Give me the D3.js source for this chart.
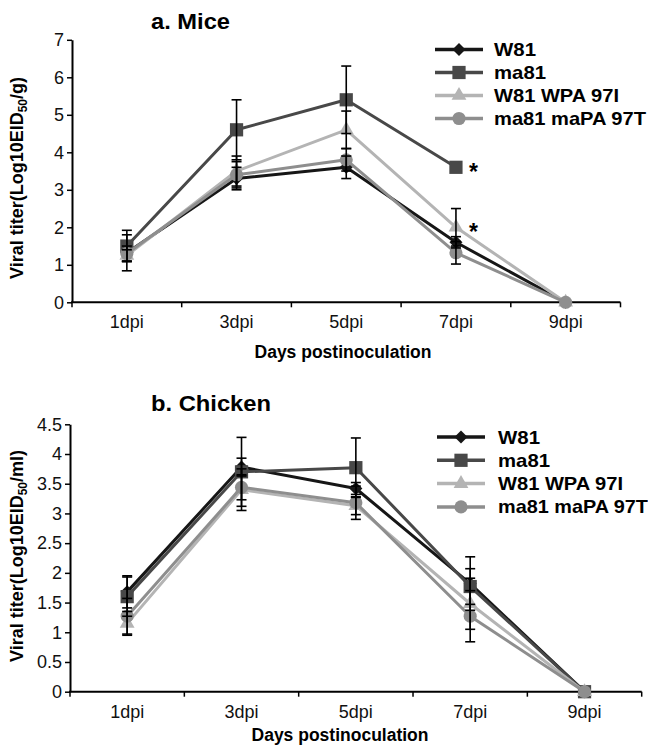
<!DOCTYPE html>
<html>
<head>
<meta charset="utf-8">
<script src="https://cdn.jsdelivr.net/npm/d3@7/dist/d3.min.js"></script>
<style>
  html, body { margin: 0; padding: 0; background: #fff; }
  svg { display: block; font-family: "Liberation Sans", Arial, sans-serif; }
</style>
</head>
<body>
<div id="chart"></div>
<script>
// categories
const days = ["1dpi", "3dpi", "5dpi", "7dpi", "9dpi"];
const seriesNames = ["W81", "ma81", "W81 WPA 97I", "ma81 maPA 97T"];

// a. Mice (null = no value)
const miceW81 = [1.32, 3.3, 3.6, 1.6, 0];
const miceW81Err = [0.48, 0.3, 0.3, 0.15, 0];
const miceMa81 = [1.5, 4.6, 5.4, 3.6, null];
const miceMa81Err = [0.42, 0.8, 0.9, 0, 0];
const miceWPA = [1.25, 3.5, 4.6, 2.0, 0];
const miceWPAErr = [0.15, 0.4, 0.5, 0.5, 0];
const miceMaPA = [1.3, 3.4, 3.8, 1.32, 0];
const miceMaPAErr = [0.2, 0.35, 0.3, 0.3, 0];
const miceTicks = [0, 1, 2, 3, 4, 5, 6, 7];
// significance marks: [series index, day index]
const miceStars = [[1, 3], [2, 3]];

// b. Chicken
const chickenW81 = [1.68, 3.78, 3.42, 1.82, 0];
const chickenW81Err = [0.27, 0.15, 0.1, 0.45, 0];
const chickenMa81 = [1.6, 3.7, 3.77, 1.77, 0];
const chickenMa81Err = [0.33, 0.58, 0.5, 0.3, 0];
const chickenWPA = [1.15, 3.4, 3.13, 1.48, 0];
const chickenWPAErr = [0.2, 0.35, 0.15, 0.43, 0];
const chickenMaPA = [1.27, 3.44, 3.18, 1.27, 0];
const chickenMaPAErr = [0.3, 0.21, 0.28, 0.43, 0];
const chickenTicks = [0, 0.5, 1, 1.5, 2, 2.5, 3, 3.5, 4, 4.5];
const chickenStars = [];

const colors = ["#161616", "#484848", "#b4b4b4", "#8e8e8e"];
const shapes = ["diamond", "square", "triangle", "circle"];

const width = 648, height = 745;
const svg = d3.select("#chart").append("svg")
  .attr("width", width)
  .attr("height", height);

function markerPath(shape) {
  if (shape === "diamond") return d3.symbol(d3.symbolSquare, 85)();
  if (shape === "square") return d3.symbol(d3.symbolSquare, 175)();
  if (shape === "triangle") return d3.symbol(d3.symbolTriangle, 95)();
  return d3.symbol(d3.symbolCircle, 135)();
}

function drawPanel(p) {
  const g = svg.append("g");
  const x = d3.scaleBand().domain(days).range(p.xRange);
  const y = d3.scaleLinear().domain(p.yDomain).range(p.yRange);
  const cx = d => x(d) + x.bandwidth() / 2;

  // title
  g.append("text")
    .attr("x", p.titleX).attr("y", p.titleY)
    .attr("font-size", 22).attr("font-weight", "bold")
    .attr("textLength", p.titleLen).attr("lengthAdjust", "spacingAndGlyphs")
    .text(p.title);

  // y axis
  const yAxis = g.append("g")
    .attr("transform", `translate(${p.xRange[0]},0)`)
    .call(d3.axisLeft(y).tickValues(p.ticks).tickFormat(d => String(d))
      .tickSize(5).tickSizeOuter(0).tickPadding(3));
  yAxis.select(".domain").attr("stroke", "#000").attr("stroke-width", 2);
  yAxis.selectAll(".tick line").attr("stroke", "#000").attr("stroke-width", 1.5);
  yAxis.selectAll(".tick text")
    .attr("font-size", 18).attr("fill", "#111")
    .attr("font-family", "'Liberation Sans', Arial, sans-serif");

  // x axis: line, boundary ticks, centred labels
  const xAxis = g.append("g").attr("transform", `translate(0,${p.yRange[0]})`);
  xAxis.append("line")
    .attr("x1", p.xRange[0] - 1).attr("x2", p.xRange[1])
    .attr("stroke", "#000").attr("stroke-width", 2);
  const bounds = days.map(d => x(d)).concat([p.xRange[1]]);
  xAxis.selectAll(".bt").data(bounds).enter().append("line")
    .attr("x1", d => d).attr("x2", d => d)
    .attr("y1", 0).attr("y2", 5)
    .attr("stroke", "#000").attr("stroke-width", 1.5);
  xAxis.selectAll(".lbl").data(days).enter().append("text")
    .attr("x", d => cx(d)).attr("y", 26)
    .attr("text-anchor", "middle")
    .attr("font-size", 18).attr("fill", "#111")
    .text(d => d);

  // axis titles
  g.append("text")
    .attr("x", p.xLabelX).attr("y", p.xLabelY)
    .attr("text-anchor", "middle")
    .attr("font-size", 17.5).attr("font-weight", "bold")
    .text("Days postinoculation");

  const yl = g.append("text")
    .attr("transform", `translate(23,${p.yLabelY}) rotate(-90)`)
    .attr("text-anchor", "middle")
    .attr("font-size", 18).attr("font-weight", "bold");
  yl.append("tspan").text("Viral titer(Log10EID");
  yl.append("tspan").attr("font-size", 12).attr("dy", 4).text("50");
  yl.append("tspan").attr("dy", -4).text(p.unit);

  // lines
  const line = d3.line()
    .defined(d => d.v !== null)
    .x(d => cx(d.day))
    .y(d => y(d.v));

  p.series.forEach((vals, i) => {
    const pts = vals.map((v, j) => ({ day: days[j], v: v, e: p.errors[i][j] }));
    g.append("path")
      .datum(pts)
      .attr("fill", "none")
      .attr("stroke", colors[i])
      .attr("stroke-width", 3)
      .attr("stroke-linejoin", "round")
      .attr("d", line);
    g.selectAll(null).data(pts.filter(d => d.v !== null)).enter().append("path")
      .attr("transform", d => `translate(${cx(d.day)},${y(d.v)})` + (shapes[i] === "diamond" ? " rotate(45)" : ""))
      .attr("d", markerPath(shapes[i]))
      .attr("fill", colors[i]);
  });

  // error bars on top
  p.series.forEach((vals, i) => {
    const pts = vals.map((v, j) => ({ day: days[j], v: v, e: p.errors[i][j] }))
      .filter(d => d.v !== null && d.e > 0);
    const eb = g.selectAll(null).data(pts).enter().append("g")
      .attr("stroke", "#000").attr("stroke-width", 1.6);
    eb.append("line")
      .attr("x1", d => cx(d.day)).attr("x2", d => cx(d.day))
      .attr("y1", d => y(d.v + d.e)).attr("y2", d => y(d.v - d.e));
    [1, -1].forEach(sign => {
      eb.append("line")
        .attr("x1", d => cx(d.day) - 5).attr("x2", d => cx(d.day) + 5)
        .attr("y1", d => y(d.v + sign * d.e)).attr("y2", d => y(d.v + sign * d.e));
    });
  });

  // significance stars
  g.selectAll(null).data(p.stars).enter().append("text")
    .attr("x", d => cx(days[d[1]]) + 13)
    .attr("y", d => y(p.series[d[0]][d[1]]) + 13)
    .attr("font-size", 23).attr("font-weight", "bold")
    .text("*");

  // legend
  const lg = g.append("g");
  seriesNames.forEach((name, i) => {
    const ly = p.legendY + i * p.legendStep;
    lg.append("line")
      .attr("x1", p.legendX).attr("x2", p.legendX + 48)
      .attr("y1", ly).attr("y2", ly)
      .attr("stroke", colors[i]).attr("stroke-width", 3.5);
    lg.append("path")
      .attr("transform", `translate(${p.legendX + 24},${ly})` + (shapes[i] === "diamond" ? " rotate(45)" : ""))
      .attr("d", markerPath(shapes[i]))
      .attr("fill", colors[i]);
    lg.append("text")
      .attr("x", p.legendX + p.legendTextDx).attr("y", ly + 6.5)
      .attr("font-size", 18.5).attr("font-weight", "bold")
      .attr("textLength", p.legendLens[i]).attr("lengthAdjust", "spacingAndGlyphs")
      .text(name);
  });
}

drawPanel({
  title: "a. Mice", titleX: 151, titleY: 29, titleLen: 79,
  xRange: [72, 620.5], yDomain: [0, 7], yRange: [302.3, 39.8],
  ticks: miceTicks, unit: "/g)",
  series: [miceW81, miceMa81, miceWPA, miceMaPA],
  errors: [miceW81Err, miceMa81Err, miceWPAErr, miceMaPAErr],
  stars: miceStars,
  xLabelX: 343, xLabelY: 358, yLabelY: 178,
  legendX: 435, legendY: 49.5, legendStep: 23, legendTextDx: 59,
  legendLens: [42, 52, 125, 152]
});

drawPanel({
  title: "b. Chicken", titleX: 151, titleY: 411, titleLen: 120,
  xRange: [70, 641.7], yDomain: [0, 4.5], yRange: [691.7, 424.3],
  ticks: chickenTicks, unit: "/ml)",
  series: [chickenW81, chickenMa81, chickenWPA, chickenMaPA],
  errors: [chickenW81Err, chickenMa81Err, chickenWPAErr, chickenMaPAErr],
  stars: chickenStars,
  xLabelX: 340, xLabelY: 741, yLabelY: 556,
  legendX: 437, legendY: 437, legendStep: 23.3, legendTextDx: 61,
  legendLens: [42, 52, 125, 150]
});
</script>
</body>
</html>
